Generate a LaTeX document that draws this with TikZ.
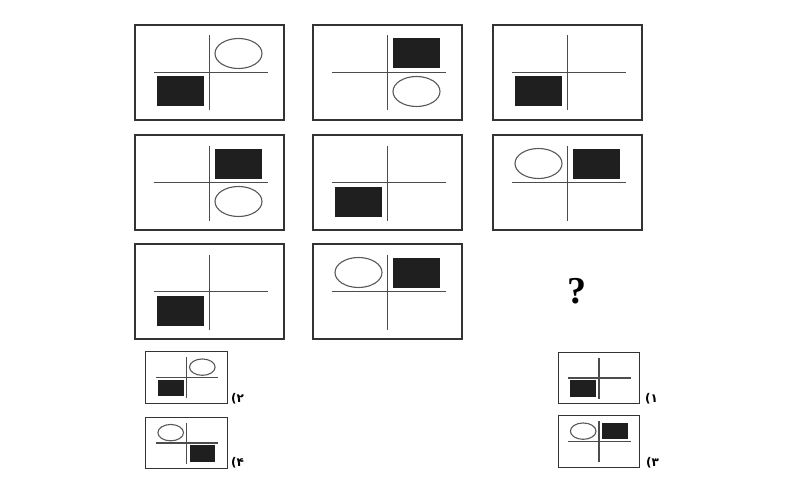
\documentclass[tikz,border=0pt]{standalone}
\usepackage{fontspec}
\setmainfont{Liberation Serif}
\newfontfamily\digitfont[Script=Arabic]{DejaVu Sans}

% one panel: frame and cross, drawn round the scope origin
\newcommand{\cell}{%
  \draw [frame] (-74.5,-47.5) rectangle (74.5,47.5);
  \draw [axis] (-56,0) -- (58,0);
  \draw [axis] (0,-37) -- (0,38);}
% filled block / ring in quadrant #1,#2 (x right, y down)
\newcommand{\blk}[2]{\fill [block] (#1*5.5,#2*4) rectangle (#1*52.5,#2*34);}
\newcommand{\ovl}[2]{\draw [ring] (#1*29,#2*19) ellipse [x radius=23.5, y radius=15];}

\begin{document}
\begin{tikzpicture}[x=1pt, y=-1pt,
                    frame/.style={draw=black!80, line width=1.2pt},
                    axis/.style={draw=black!70, line width=1.2pt},
                    block/.style={fill=black!88},
                    ring/.style={draw=black!65, line width=1.1pt},
                    choice/.style={font=\digitfont\bfseries\fontsize{12}{14}\selectfont, anchor=west, inner sep=0pt}]
  \useasboundingbox [fill=white] (0,0) rectangle (800,500);
  % row 1
  \begin{scope}[shift={(209.5,72.5)}] \cell \blk{-1}{1} \ovl{1}{-1} \end{scope}
  \begin{scope}[shift={(387.5,72.5)}] \cell \blk{1}{-1} \ovl{1}{1} \end{scope}
  \begin{scope}[shift={(567.5,72.5)}] \cell \blk{-1}{1} \end{scope}
  % row 2
  \begin{scope}[shift={(209.5,182.5)}] \cell \blk{1}{-1} \ovl{1}{1} \end{scope}
  \begin{scope}[shift={(387.5,182.5)}] \cell \blk{-1}{1} \end{scope}
  \begin{scope}[shift={(567.5,182.5)}] \cell \blk{1}{-1} \ovl{-1}{-1} \end{scope}
  % row 3
  \begin{scope}[shift={(209.5,291.5)}] \cell \blk{-1}{1} \end{scope}
  \begin{scope}[shift={(387.5,291.5)}] \cell \blk{1}{-1} \ovl{-1}{-1} \end{scope}
  \node (ask) at (577,291) {\fontsize{38}{40}\selectfont\bfseries ?};
  % answers
  \begin{scope}[shift={(186.5,377.5)}, scale=.545] \cell \blk{-1}{1} \ovl{1}{-1} \end{scope}
  \begin{scope}[shift={(186.5,443)}, scale=.545] \cell \blk{1}{1} \ovl{-1}{-1} \end{scope}
  \begin{scope}[shift={(599,378)}, scale=.545] \cell \blk{-1}{1} \end{scope}
  \begin{scope}[shift={(599,441.5)}, scale=.545] \cell \blk{1}{-1} \ovl{-1}{-1} \end{scope}
  \node [choice] (two) at (231,399) {۲)};
  \node [choice] (four) at (231,463) {۴)};
  \node [choice] (one) at (645,399) {۱)};
  \node [choice] (three) at (646,463) {۳)};
\end{tikzpicture}
\end{document}
